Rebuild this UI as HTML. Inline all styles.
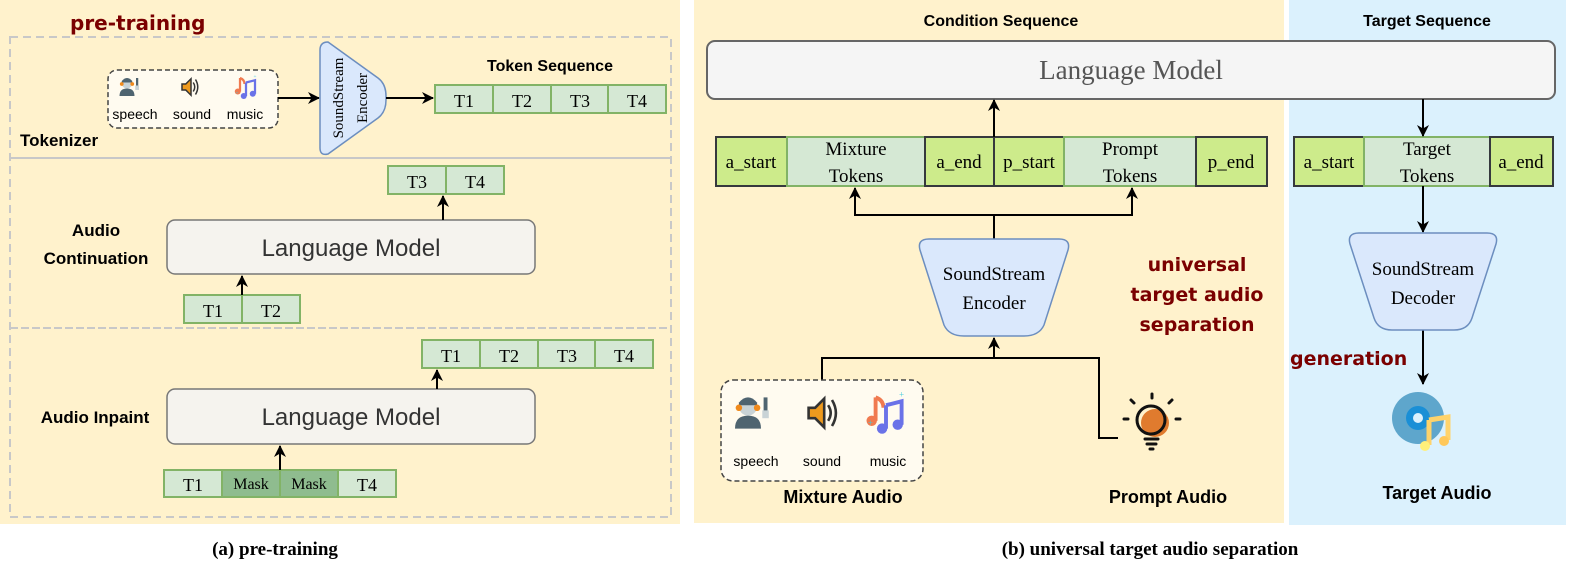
<!DOCTYPE html>
<html><head><meta charset="utf-8"><style>
html,body{margin:0;padding:0;background:#fff;}
svg{display:block;}
.s{font-family:"Liberation Sans",sans-serif;}
.r{font-family:"Liberation Serif",serif;}
.c{font-family:"DejaVu Sans",sans-serif;font-weight:bold;fill:#7a0000;}
</style></head><body>
<svg width="1577" height="583" viewBox="0 0 1577 583" xmlns="http://www.w3.org/2000/svg">
<defs>
<marker id="ah" markerWidth="12" markerHeight="12" refX="11" refY="6" orient="auto" markerUnits="userSpaceOnUse">
<path d="M0,0 L12,6 L0,12 L3.5,6 Z" fill="#000"/></marker>
<g id="speech">
<circle cx="0" cy="-5" r="7" fill="#c9d3d6"/>
<path d="M-7,-8 Q0,-16 7,-8 L7,-6 L-7,-6 Z" fill="#4f6470"/>
<circle cx="-7" cy="-4" r="2.5" fill="#f08a1c"/><circle cx="7" cy="-4" r="2.5" fill="#f08a1c"/>
<path d="M-10,12 Q-10,2 0,2 Q10,2 10,12 Z" fill="#4f6470"/>
<rect x="12" y="-12" width="3" height="12" fill="#4f6470"/><rect x="11" y="-2" width="5" height="6" fill="#c9d3d6"/>
</g>
<g id="sound">
<path d="M-8,-4 L-3,-4 L4,-11 L4,11 L-3,4 L-8,4 Z" fill="#ee9a1e" stroke="#333" stroke-width="2"/>
<path d="M7,-6 Q11,0 7,6" fill="none" stroke="#333" stroke-width="2"/>
<path d="M10,-10 Q16,0 10,10" fill="none" stroke="#333" stroke-width="2"/>
</g>
<g id="music">
<path d="M-8,-12 L-8,6" stroke="#f07a50" stroke-width="3"/><circle cx="-11" cy="6" r="4" fill="#f07a50"/>
<path d="M-8,-12 Q-2,-10 -2,-4" stroke="#f07a50" stroke-width="3" fill="none"/>
<path d="M0,-6 L12,-9 L12,9 M0,-6 L0,12" stroke="#6a72e8" stroke-width="3" fill="none"/>
<circle cx="-3" cy="12" r="4" fill="#6a72e8"/><circle cx="9" cy="9" r="4" fill="#6a72e8"/>
<text x="-14" y="10" font-size="7" fill="#4cd">+</text><text x="10" y="-12" font-size="7" fill="#4cd">+</text>
</g>
</defs>

<!-- LEFT PANEL -->
<rect x="0" y="0" width="680" height="524" fill="#fff2cc"/>
<rect x="10" y="37" width="661" height="480" fill="none" stroke="#c8c8c8" stroke-width="2" stroke-dasharray="8,5"/>
<line x1="10" y1="158" x2="671" y2="158" stroke="#c8c8c8" stroke-width="2"/>
<line x1="10" y1="328" x2="671" y2="328" stroke="#c8c8c8" stroke-width="2" stroke-dasharray="8,3"/>
<text x="70" y="30" class="c" font-size="20">pre-training</text>

<rect x="108" y="70" width="170" height="58" rx="9" fill="#fffbf0" stroke="#444" stroke-width="1.5" stroke-dasharray="5,3"/>
<use href="#speech" transform="translate(127,87) scale(0.75)"/>
<use href="#sound" transform="translate(188,87) scale(0.75)"/>
<use href="#music" transform="translate(246,87) scale(0.75)"/>
<text x="135" y="119" class="s" font-size="14" text-anchor="middle">speech</text>
<text x="192" y="119" class="s" font-size="14" text-anchor="middle">sound</text>
<text x="245" y="119" class="s" font-size="14" text-anchor="middle">music</text>
<text x="20" y="146" class="s" font-size="17" font-weight="bold">Tokenizer</text>

<line x1="278" y1="98" x2="319" y2="98" stroke="#000" stroke-width="2" marker-end="url(#ah)"/>
<path d="M328,42 Q320,42 320,50 L320,148 Q320,156 328,154 L378,118 Q386,112 386,100 L386,96 Q386,84 378,78 Z" fill="#dae8fc" stroke="#6c8ebf" stroke-width="1.5"/>
<text transform="translate(343,98) rotate(-90)" class="r" font-size="15" text-anchor="middle">SoundStream</text>
<text transform="translate(367,98) rotate(-90)" class="r" font-size="15" text-anchor="middle">Encoder</text>
<line x1="386" y1="98" x2="433" y2="98" stroke="#000" stroke-width="2" marker-end="url(#ah)"/>
<text x="550" y="71" class="s" font-size="16" font-weight="bold" text-anchor="middle">Token Sequence</text>
<g stroke="#82b366" stroke-width="2" fill="#d5e8d4">
<rect x="435" y="85" width="58" height="28"/><rect x="493" y="85" width="58" height="28"/><rect x="551" y="85" width="57" height="28"/><rect x="608" y="85" width="58" height="28"/>
<rect x="388" y="166" width="58" height="28"/><rect x="446" y="166" width="58" height="28"/>
<rect x="184" y="295" width="58" height="28"/><rect x="242" y="295" width="58" height="28"/>
<rect x="422" y="340" width="58" height="28"/><rect x="480" y="340" width="58" height="28"/><rect x="538" y="340" width="57" height="28"/><rect x="595" y="340" width="58" height="28"/>
<rect x="164" y="470" width="58" height="27"/><rect x="222" y="470" width="58" height="27" fill="#8fbc8f"/><rect x="280" y="470" width="58" height="27" fill="#8fbc8f"/><rect x="338" y="470" width="58" height="27"/>
</g>
<g class="r" font-size="18" text-anchor="middle">
<text x="464" y="107">T1</text><text x="522" y="107">T2</text><text x="580" y="107">T3</text><text x="637" y="107">T4</text>
<text x="417" y="188">T3</text><text x="475" y="188">T4</text>
<text x="213" y="317">T1</text><text x="271" y="317">T2</text>
<text x="451" y="362">T1</text><text x="509" y="362">T2</text><text x="567" y="362">T3</text><text x="624" y="362">T4</text>
<text x="193" y="491">T1</text><text x="251" y="489" font-size="16">Mask</text><text x="309" y="489" font-size="16">Mask</text><text x="367" y="491">T4</text>
</g>
<rect x="167" y="220" width="368" height="54" rx="8" fill="#f5f3ee" stroke="#777" stroke-width="1.5"/>
<text x="351" y="256" class="s" font-size="24" fill="#333" text-anchor="middle">Language Model</text>
<rect x="167" y="389" width="368" height="55" rx="8" fill="#f5f3ee" stroke="#777" stroke-width="1.5"/>
<text x="351" y="425" class="s" font-size="24" fill="#333" text-anchor="middle">Language Model</text>
<line x1="443" y1="220" x2="443" y2="196" stroke="#000" stroke-width="2" marker-end="url(#ah)"/>
<line x1="242" y1="295" x2="242" y2="276" stroke="#000" stroke-width="2" marker-end="url(#ah)"/>
<line x1="437" y1="389" x2="437" y2="370" stroke="#000" stroke-width="2" marker-end="url(#ah)"/>
<line x1="280" y1="470" x2="280" y2="446" stroke="#000" stroke-width="2" marker-end="url(#ah)"/>
<text x="96" y="236" class="s" font-size="17" font-weight="bold" text-anchor="middle">Audio</text>
<text x="96" y="264" class="s" font-size="17" font-weight="bold" text-anchor="middle">Continuation</text>
<text x="95" y="423" class="s" font-size="17" font-weight="bold" text-anchor="middle">Audio Inpaint</text>
<text x="275" y="555" class="r" font-size="19" font-weight="bold" text-anchor="middle">(a) pre-training</text>

<!-- RIGHT PANEL -->
<rect x="694" y="0" width="590" height="523" fill="#fff2cc"/>
<rect x="1289" y="0" width="277" height="525" fill="#dbf1fd"/>
<text x="1001" y="26" class="s" font-size="16" font-weight="bold" text-anchor="middle">Condition Sequence</text>
<text x="1427" y="26" class="s" font-size="16" font-weight="bold" text-anchor="middle">Target Sequence</text>
<rect x="707" y="41" width="848" height="58" rx="8" fill="#f5f5f5" stroke="#666" stroke-width="2"/>
<text x="1131" y="79" class="r" font-size="27" fill="#555" text-anchor="middle">Language Model</text>

<g stroke-width="2">
<rect x="716" y="137" width="71" height="49" fill="#cdeb8b" stroke="#36393d"/>
<rect x="787" y="137" width="138" height="49" fill="#d5e8d4" stroke="#82b366"/>
<rect x="925" y="137" width="69" height="49" fill="#cdeb8b" stroke="#36393d"/>
<rect x="994" y="137" width="70" height="49" fill="#cdeb8b" stroke="#36393d"/>
<rect x="1064" y="137" width="132" height="49" fill="#d5e8d4" stroke="#82b366"/>
<rect x="1196" y="137" width="71" height="49" fill="#cdeb8b" stroke="#36393d"/>
<rect x="1294" y="137" width="70" height="49" fill="#cdeb8b" stroke="#36393d"/>
<rect x="1364" y="137" width="126" height="49" fill="#d5e8d4" stroke="#82b366"/>
<rect x="1490" y="137" width="63" height="49" fill="#cdeb8b" stroke="#36393d"/>
</g>
<g class="r" font-size="19" text-anchor="middle">
<text x="751" y="168">a_start</text>
<text x="856" y="155">Mixture</text><text x="856" y="182">Tokens</text>
<text x="959" y="168">a_end</text><text x="1029" y="168">p_start</text>
<text x="1130" y="155">Prompt</text><text x="1130" y="182">Tokens</text>
<text x="1231" y="168">p_end</text>
<text x="1329" y="168">a_start</text>
<text x="1427" y="155">Target</text><text x="1427" y="182">Tokens</text>
<text x="1521" y="168">a_end</text>
</g>
<g stroke="#000" stroke-width="2" fill="none">
<line x1="994" y1="137" x2="994" y2="100" marker-end="url(#ah)"/>
<line x1="1423" y1="99" x2="1423" y2="136" marker-end="url(#ah)"/>
<line x1="1423" y1="186" x2="1423" y2="232" marker-end="url(#ah)"/>
<line x1="1423" y1="330" x2="1423" y2="384" marker-end="url(#ah)"/>
<polyline points="994,239 994,215 855,215 855,188" marker-end="url(#ah)"/>
<polyline points="994,215 1132,215 1132,188" marker-end="url(#ah)"/>
<polyline points="822,381 822,358 1099,358 1099,438 1118,438"/>
<line x1="994" y1="358" x2="994" y2="338" marker-end="url(#ah)"/>
</g>
<path d="M929,239 L1059,239 Q1071,239 1068,250 L1044,325 Q1039,336 1024,336 L964,336 Q949,336 944,325 L920,250 Q917,239 929,239 Z" fill="#dae8fc" stroke="#6c8ebf" stroke-width="1.5"/>
<text x="994" y="280" class="r" font-size="19" text-anchor="middle">SoundStream</text>
<text x="994" y="309" class="r" font-size="19" text-anchor="middle">Encoder</text>
<path d="M1359,233 L1487,233 Q1499,233 1496,244 L1472,318 Q1468,330 1454,330 L1392,330 Q1378,330 1374,318 L1350,244 Q1347,233 1359,233 Z" fill="#dae8fc" stroke="#6c8ebf" stroke-width="1.5"/>
<text x="1423" y="275" class="r" font-size="19" text-anchor="middle">SoundStream</text>
<text x="1423" y="304" class="r" font-size="19" text-anchor="middle">Decoder</text>

<text x="1197" y="271" class="c" font-size="19" text-anchor="middle">universal</text>
<text x="1197" y="301" class="c" font-size="19" text-anchor="middle">target audio</text>
<text x="1197" y="331" class="c" font-size="19" text-anchor="middle">separation</text>
<text x="1290" y="365" class="c" font-size="19">generation</text>

<rect x="721" y="380" width="202" height="101" rx="12" fill="#fffbf0" stroke="#444" stroke-width="1.5" stroke-dasharray="5,3"/>
<use href="#speech" transform="translate(748,413) scale(1.3)"/>
<use href="#sound" transform="translate(819,413) scale(1.3)"/>
<use href="#music" transform="translate(886,413) scale(1.3)"/>
<g class="s" font-size="14" text-anchor="middle">
<text x="756" y="466">speech</text><text x="822" y="466">sound</text><text x="888" y="466">music</text>
</g>
<text x="843" y="503" class="s" font-size="18" font-weight="bold" text-anchor="middle">Mixture Audio</text>
<text x="1168" y="503" class="s" font-size="18" font-weight="bold" text-anchor="middle">Prompt Audio</text>
<text x="1437" y="499" class="s" font-size="18" font-weight="bold" text-anchor="middle">Target Audio</text>

<!-- bulb -->
<circle cx="1155" cy="423" r="14" fill="#e07b2e"/>
<circle cx="1151" cy="420" r="14" fill="none" stroke="#111" stroke-width="3"/>
<g stroke="#111" stroke-width="3" stroke-linecap="round">
<line x1="1152" y1="394" x2="1152" y2="398"/><line x1="1131" y1="400" x2="1134" y2="403"/><line x1="1172" y1="400" x2="1169" y2="403"/>
<line x1="1124" y1="419" x2="1128" y2="419"/><line x1="1176" y1="419" x2="1180" y2="419"/>
<line x1="1145" y1="439" x2="1158" y2="439"/><line x1="1147" y1="444" x2="1156" y2="444"/><line x1="1150" y1="449" x2="1153" y2="449"/>
</g>
<!-- target disc -->
<circle cx="1418" cy="418" r="26" fill="#5ea6cc"/>
<circle cx="1418" cy="418" r="12" fill="#1a8fd6"/>
<circle cx="1418" cy="418" r="5" fill="#dbf1fd"/>
<path d="M1429,420 L1448,417 L1448,440 M1429,420 L1429,445" stroke="#ffd36b" stroke-width="5" fill="none"/>
<circle cx="1425" cy="446" r="5" fill="#fff07a"/><circle cx="1444" cy="441" r="5" fill="#ffc85a"/>

<text x="1150" y="555" class="r" font-size="19" font-weight="bold" text-anchor="middle">(b) universal target audio separation</text>
</svg>
</body></html>
